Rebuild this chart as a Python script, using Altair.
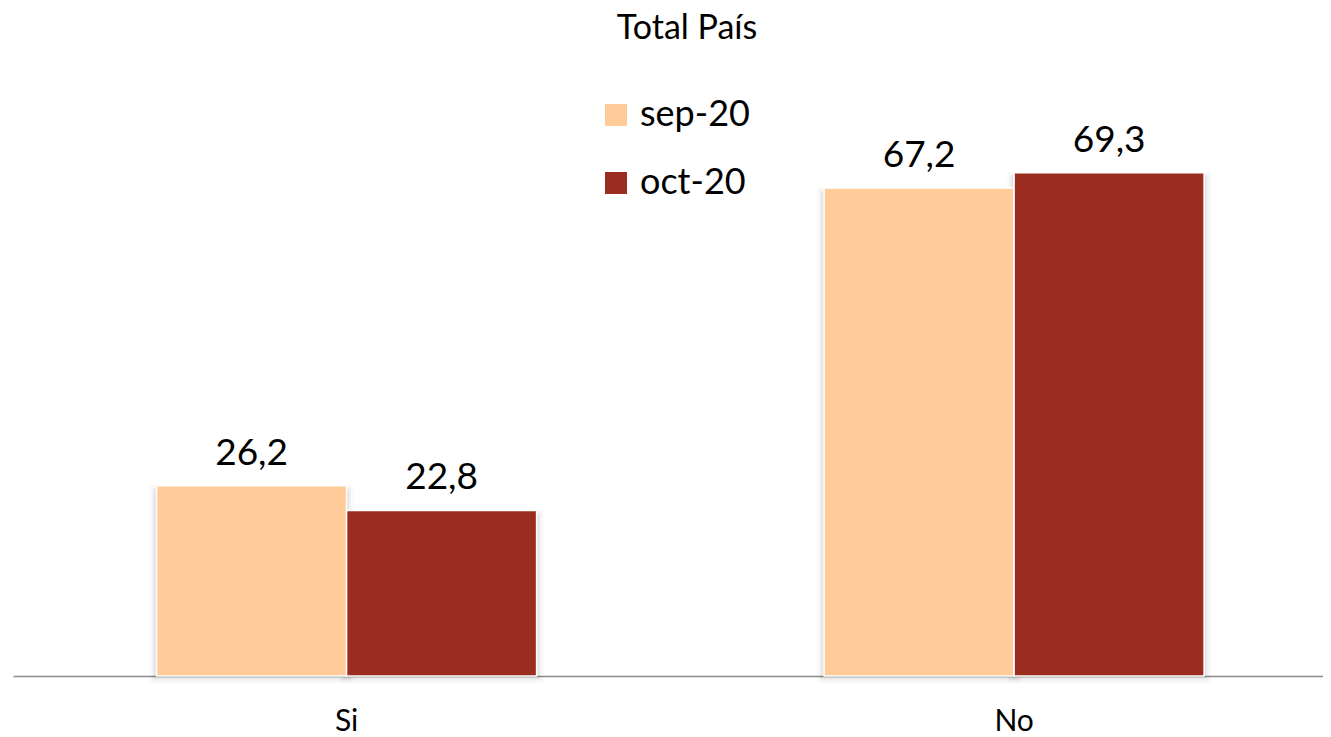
import altair as alt
import pandas as pd

categories = ["Si", "No"]
series = ["sep-20", "oct-20"]
sep_values = [26.2, 67.2]
oct_values = [22.8, 69.3]
colors = ["#FFCB98", "#9B2C20"]

rows = []
for i, c in enumerate(categories):
    rows.append({"cat": c, "series": series[0], "value": sep_values[i]})
    rows.append({"cat": c, "series": series[1], "value": oct_values[i]})
df = pd.DataFrame(rows)

FONT = "Lato"

xenc = alt.X(
    "cat:N",
    sort=categories,
    scale=alt.Scale(paddingInner=0.4307, paddingOuter=0.1966, align=0.547),
    axis=alt.Axis(
        title=None,
        labelAngle=0,
        labelFont=FONT,
        labelFontSize=30,
        labelColor="black",
        labelPadding=30,
        domainColor="#8c8c8c",
        domainWidth=1.5,
        ticks=False,
    ),
)
xoff = alt.XOffset("series:N", sort=series, scale=alt.Scale(paddingInner=0, paddingOuter=0))
yscale = alt.Scale(domain=[0, 80])

base = alt.Chart(df).transform_calculate(
    label="replace(format(datum.value, '.1f'), '.', ',')",
    shadow_top="datum.value - 0.9",
)

# soft shadow behind the bars
shadows = [
    base.mark_bar(fill="#000000", fillOpacity=0.02, stroke="#000000", strokeOpacity=op, strokeWidth=sw).encode(
        x=xenc, xOffset=xoff, y=alt.Y("shadow_top:Q", scale=yscale, axis=None)
    )
    for sw, op in [(14, 0.025), (9, 0.035), (5, 0.05)]
]

bars = base.mark_bar(stroke="white", strokeWidth=1.5).encode(
    x=xenc,
    xOffset=xoff,
    y=alt.Y("value:Q", scale=yscale, axis=None),
    color=alt.Color(
        "series:N",
        sort=series,
        scale=alt.Scale(domain=series, range=colors),
        legend=alt.Legend(
            title=None,
            orient="none",
            legendX=585,
            legendY=2,
            symbolType="square",
            symbolSize=484,
            symbolStrokeWidth=0,
            symbolOpacity=1,
            labelFont=FONT,
            labelFontSize=36,
            labelColor="black",
            labelOffset=6,
            rowPadding=32,
            direction="vertical",
        ),
    ),
)

text = base.mark_text(
    dy=-21, baseline="alphabetic", font=FONT, fontSize=37, color="black"
).encode(x=xenc, xOffset=xoff, y=alt.Y("value:Q", scale=yscale, axis=None), text="label:N")

chart = (
    alt.layer(*shadows, bars, text)
    .properties(
        width=1310,
        height=581,
        background="white",
        title=alt.TitleParams(
            "Total País",
            font=FONT,
            fontSize=34,
            fontWeight="normal",
            color="black",
            anchor="middle",
            dx=19,
            offset=49,
        ),
        padding={"left": 5, "right": 0, "top": 87, "bottom": 62},
        autosize=alt.AutoSizeParams(type="none"),
    )
    .configure_view(stroke=None)
)

chart.save("out.html", embed_options={"renderer": "svg", "actions": False})
